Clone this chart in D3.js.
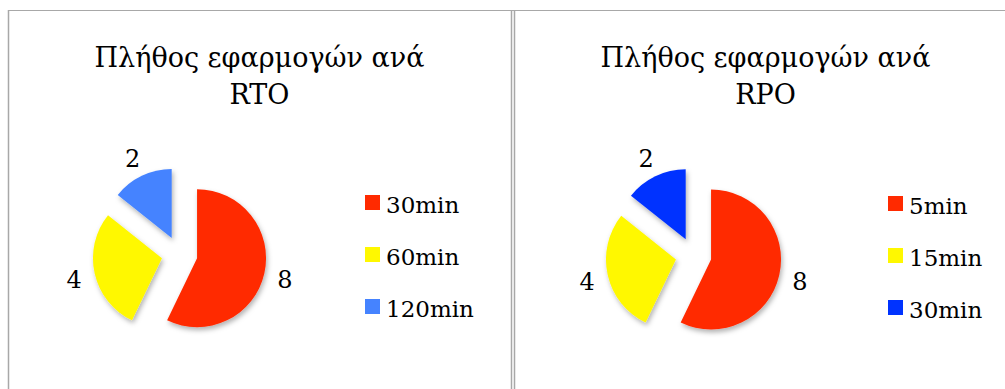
<!DOCTYPE html>
<html>
<head>
<meta charset="utf-8">
<script src="https://cdn.jsdelivr.net/npm/d3@7"></script>
<style>
  html, body { margin: 0; padding: 0; background: #fff; }
  svg { display: block; }
  text { font-family: "DejaVu Serif", serif; fill: #000; }
</style>
</head>
<body>
<svg id="chart" width="1005" height="389"></svg>
<script>
// ---- Data ----
const titleMain = "Πλήθος εφαρμογών ανά";
const titleSubs = ["RTO", "RPO"];
const rtoCategories = ["30min", "60min", "120min"];
const rtoValues = [8, 4, 2];
const rpoCategories = ["5min", "15min", "30min"];
const rpoValues = [8, 4, 2];

// ---- Styles / layout ----
const rtoColors = ["#FF2A00", "#FFF800", "#4583FF"];
const rpoColors = ["#FF2A00", "#FFF800", "#0033FF"];

const panels = [
  { x0: 8, x1: 511, cx: 179.5, cy: 254.2, r: 69, legendX: 365, legendY: 195,
    sub: titleSubs[0], cats: rtoCategories, vals: rtoValues, colors: rtoColors },
  { x0: 514, x1: 1017, cx: 693.5, cy: 255.5, r: 70, legendX: 888, legendY: 196,
    sub: titleSubs[1], cats: rpoCategories, vals: rpoValues, colors: rpoColors }
];

const svg = d3.select("#chart");
svg.append("rect").attr("width", 1005).attr("height", 389).attr("fill", "#fff");

const defs = svg.append("defs");
const f = defs.append("filter").attr("id", "shadow")
  .attr("x", "-20%").attr("y", "-20%").attr("width", "150%").attr("height", "150%");
f.append("feDropShadow").attr("dx", 1.5).attr("dy", 3).attr("stdDeviation", 2.5)
  .attr("flood-color", "#000").attr("flood-opacity", 0.3);

// borders
const borderColor = "#A8A8A8";
svg.append("line").attr("x1", 8).attr("x2", 1005).attr("y1", 10.5).attr("y2", 10.5)
  .attr("stroke", borderColor).attr("stroke-width", 1.2);
panels.forEach(p => {
  svg.append("line").attr("x1", p.x0 + 0.5).attr("x2", p.x0 + 0.5).attr("y1", 10).attr("y2", 389)
    .attr("stroke", borderColor).attr("stroke-width", 1.5);
  svg.append("line").attr("x1", p.x1 + 0.5).attr("x2", p.x1 + 0.5).attr("y1", 10).attr("y2", 389)
    .attr("stroke", borderColor).attr("stroke-width", 1.5);
});

const explode = 18;
const pie = d3.pie().sort(null).value(d => d);

panels.forEach(p => {
  const midX = (p.x0 + p.x1) / 2;
  const g = svg.append("g");
  g.append("text").attr("x", midX).attr("y", 66.5).attr("text-anchor", "middle")
    .attr("font-size", 27).text(titleMain);
  g.append("text").attr("x", midX).attr("y", 104).attr("text-anchor", "middle")
    .attr("font-size", 27).text(p.sub);

  const arcs = pie(p.vals);
  const arc = d3.arc().innerRadius(0).outerRadius(p.r);
  const pg = g.append("g").attr("transform", `translate(${p.cx},${p.cy})`);
  const dir = a => [Math.sin(a), -Math.cos(a)];

  pg.selectAll("path.slice").data(arcs).join("path")
    .attr("class", "slice")
    .attr("d", arc)
    .attr("fill", (d, i) => p.colors[i])
    .attr("filter", "url(#shadow)")
    .attr("transform", d => {
      const [ux, uy] = dir((d.startAngle + d.endAngle) / 2);
      return `translate(${ux * explode},${uy * explode})`;
    });

  const labelR = p.r + explode + 21;
  pg.selectAll("text.lbl").data(arcs).join("text")
    .attr("class", "lbl")
    .attr("x", d => dir((d.startAngle + d.endAngle) / 2)[0] * labelR)
    .attr("y", d => dir((d.startAngle + d.endAngle) / 2)[1] * labelR + 2)
    .attr("text-anchor", "middle").attr("dominant-baseline", "central")
    .attr("font-size", 24)
    .text(d => d.data);

  const lg = g.append("g").attr("transform", `translate(${p.legendX},${p.legendY})`);
  const items = lg.selectAll("g").data(p.cats).join("g")
    .attr("transform", (d, i) => `translate(0,${i * 52})`);
  items.append("rect").attr("width", 15).attr("height", 15)
    .attr("fill", (d, i) => p.colors[i]);
  items.append("text").attr("x", 21).attr("y", 18).attr("font-size", 23).text(d => d);
});
</script>
</body>
</html>
